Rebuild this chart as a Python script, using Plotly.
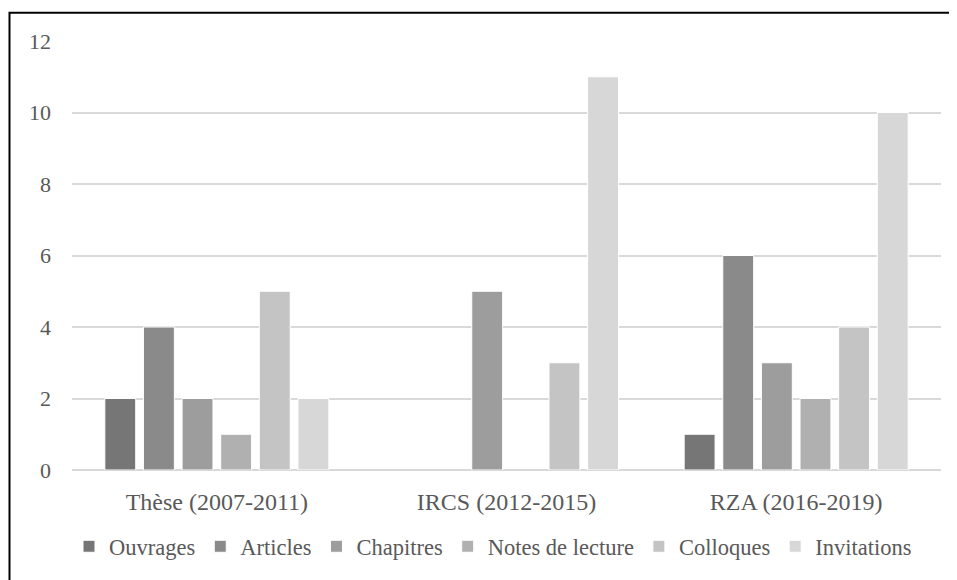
import plotly.graph_objects as go

categories = ["Thèse (2007-2011)", "IRCS (2012-2015)", "RZA (2016-2019)"]
series_names = ["Ouvrages", "Articles", "Chapitres", "Notes de lecture", "Colloques", "Invitations"]
ouvrages = [2, 0, 1]
articles = [4, 0, 6]
chapitres = [2, 5, 3]
notes = [1, 0, 2]
colloques = [5, 3, 4]
invitations = [2, 11, 10]
colors = ["#767676", "#8a8a8a", "#9d9d9d", "#b0b0b0", "#c4c4c4", "#d7d7d7"]
y_ticks = [0, 2, 4, 6, 8, 10, 12]

values = [ouvrages, articles, chapitres, notes, colloques, invitations]
FONT = "Liberation Serif, Times New Roman, serif"

fig = go.Figure()
for name, vals, col in zip(series_names, values, colors):
    fig.add_trace(go.Bar(
        name=name, x=categories, y=vals,
        marker=dict(color=col,
                    line=dict(color="white", width=[1 if v > 0 else 0 for v in vals])),
    ))

# page body has an 8px margin: work in screen coords and shift
OFF = 8
W, H = 957 - OFF, 580 - OFF
L, R, T, B = 72 - OFF, 16, 41 - OFF, 108
pw, ph = W - L - R, H - T - B

def px(x):
    return (x - OFF - L) / pw

def py(y):
    return (H - B - (y - OFF)) / ph

fig.add_shape(type="rect", xref="paper", yref="paper",
              x0=px(9.5), x1=px(970), y0=py(595), y1=py(12.5),
              line=dict(color="black", width=2), fillcolor="rgba(0,0,0,0)")

fig.update_layout(
    width=W, height=H,
    margin=dict(l=L, r=R, t=T, b=B),
    paper_bgcolor="white", plot_bgcolor="white",
    barmode="group", bargap=0.2, bargroupgap=0.2,
    font=dict(family=FONT, size=22, color="#595959"),
    showlegend=True,
    legend=dict(orientation="h", x=px(493), xanchor="center", y=py(549), yanchor="middle",
                font=dict(family=FONT, size=22.5, color="#595959"),
                itemwidth=30, tracegroupgap=0),
    xaxis=dict(showgrid=False, showline=False, ticks="", tickfont=dict(size=24),
               ticklabelstandoff=15),
    yaxis=dict(range=[0, 12], tickvals=y_ticks, showgrid=True, gridcolor="#d9d9d9",
               gridwidth=1.5, zeroline=True, zerolinecolor="#d9d9d9", zerolinewidth=1.5,
               ticks="", ticklabelstandoff=20, tickfont=dict(size=22)),
)

fig.write_html("out.html")
